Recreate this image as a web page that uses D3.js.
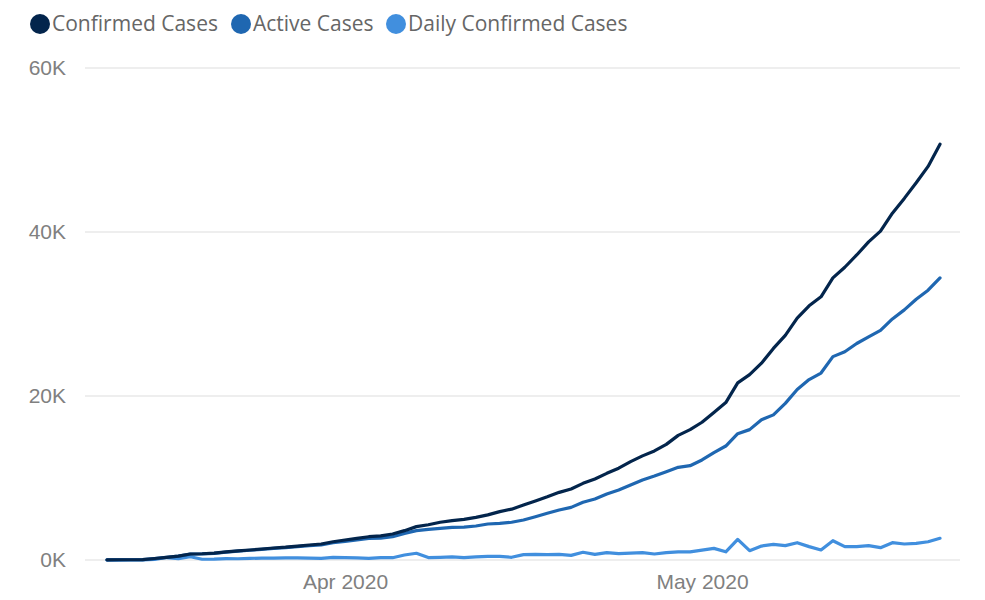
<!DOCTYPE html>
<html>
  <head>
    <meta charset="utf-8">
    <title>Cases</title>
    <script src="https://d3js.org/d3.v7.min.js"></script>
    <style>
      body { margin: 0; background: #fff; font-family: "Segoe UI", "Open Sans", sans-serif; }
      .grid line { stroke: #e8e8e8; stroke-width: 1.5; }
      .axis text { fill: #808080; font-size: 21px; }
      .legend text { fill: #666; font-size: 21px; }
      .series { fill: none; stroke-width: 3.2; stroke-linejoin: round; stroke-linecap: round; }
    </style>
  </head>
  <body>
    <svg id="chart" width="985" height="600"></svg>
    <script>
      // data, one value per day from 12 Mar 2020
      var startDate = new Date(2020, 2, 12);
      var confirmed = [20, 28, 31, 53, 180, 330, 480, 730, 760, 830,
        980, 1120, 1220, 1340, 1460, 1560, 1700, 1830, 1950, 2230,
        2440, 2640, 2840, 2950, 3170, 3580, 4070, 4300, 4600, 4800,
        4960, 5200, 5500, 5900, 6200, 6700, 7200, 7700, 8250, 8660,
        9350, 9880, 10570, 11200, 12000, 12700, 13300, 14100, 15200, 15900,
        16800, 18000, 19200, 21600, 22600, 24000, 25800, 27400, 29500, 31000,
        32100, 34400, 35700, 37200, 38800, 40100, 42300, 44100, 46000, 48000,
        50700];
      var active = [20, 27, 30, 50, 175, 325, 470, 715, 745, 810,
        955, 1090, 1190, 1300, 1410, 1500, 1630, 1750, 1850, 2100,
        2280, 2450, 2620, 2660, 2840, 3250, 3580, 3740, 3860, 3980,
        4020, 4150, 4390, 4470, 4600, 4880, 5280, 5700, 6100, 6420,
        7040, 7440, 8050, 8540, 9150, 9760, 10240, 10770, 11300, 11500,
        12200, 13100, 13900, 15400, 15900, 17100, 17700, 19100, 20800, 22000,
        22800, 24800, 25400, 26400, 27200, 28000, 29400, 30500, 31800, 32900,
        34400];
      var daily = [0, 8, 3, 22, 60, 300, 160, 400, 90, 100,
        160, 150, 200, 220, 240, 250, 260, 220, 200, 330,
        280, 250, 200, 300, 280, 610, 820, 300, 330, 370,
        290, 370, 450, 450, 330, 650, 690, 650, 690, 570,
        940, 690, 900, 770, 850, 900, 730, 900, 980, 1000,
        1200, 1420, 1000, 2520, 1140, 1700, 1910, 1750, 2110, 1630,
        1220, 2350, 1630, 1630, 1750, 1500, 2110, 1950, 2030, 2230,
        2650];
      var seriesNames = ["Confirmed Cases", "Active Cases", "Daily Confirmed Cases"];
      var seriesColours = ["#03254c", "#1f67b1", "#418fde"];
      var yTicks = [0, 20000, 40000, 60000];
      var xTicks = [new Date(2020, 3, 1), new Date(2020, 4, 1)];

      var dates = confirmed.map(function(d, i) { return d3.timeDay.offset(startDate, i); });
      var allSeries = [confirmed, active, daily];

      var svg = d3.select("#chart");

      // scales
      var x = d3.scaleTime()
        .domain([dates[0], dates[dates.length - 1]])
        .range([107, 940]);
      var y = d3.scaleLinear()
        .domain([0, 60000])
        .range([560, 68]);

      // gridlines
      svg.append("g")
          .attr("class", "grid")
        .selectAll("line")
          .data(yTicks)
        .enter().append("line")
          .attr("x1", 85)
          .attr("x2", 960)
          .attr("y1", function(d) { return y(d); })
          .attr("y2", function(d) { return y(d); });

      // y axis
      var yAxis = svg.append("g")
        .attr("class", "axis")
        .attr("transform", "translate(66,0)")
        .call(d3.axisLeft(y)
          .tickValues(yTicks)
          .tickSize(0)
          .tickPadding(0)
          .tickFormat(function(d) { return (d / 1000) + "K"; }));
      yAxis.select(".domain").remove();

      // x axis
      var xAxis = svg.append("g")
        .attr("class", "axis")
        .attr("transform", "translate(0,570)")
        .call(d3.axisBottom(x)
          .tickValues(xTicks)
          .tickSize(0)
          .tickPadding(0)
          .tickFormat(d3.timeFormat("%b %Y")));
      xAxis.select(".domain").remove();
      xAxis.selectAll("text").attr("dy", "0.9em");

      // lines
      var line = d3.line()
        .x(function(d, i) { return x(dates[i]); })
        .y(function(d) { return y(d); });
      svg.selectAll(".series")
          .data(allSeries.slice().reverse())
        .enter().append("path")
          .attr("class", "series")
          .attr("stroke", function(d, i) { return seriesColours[2 - i]; })
          .attr("d", line);

      // legend
      var legendX = [40, 241, 396];
      var legend = svg.append("g")
          .attr("class", "legend")
        .selectAll("g")
          .data(seriesNames)
        .enter().append("g")
          .attr("transform", function(d, i) { return "translate(" + legendX[i] + ",24)"; });
      legend.append("circle")
        .attr("r", 10)
        .attr("fill", function(d, i) { return seriesColours[i]; });
      legend.append("text")
        .attr("x", 12)
        .attr("dy", "0.35em")
        .text(function(d) { return d; });
    </script>
  </body>
</html>
